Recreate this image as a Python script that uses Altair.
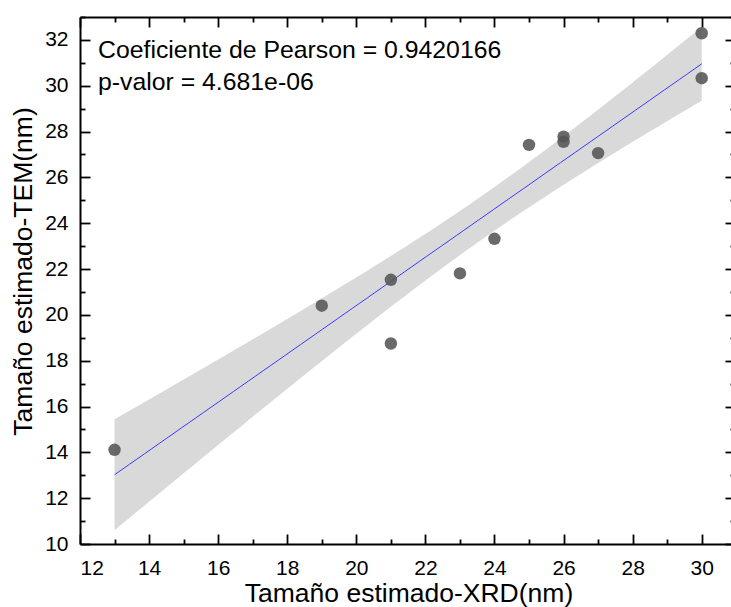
import altair as alt
import numpy as np
import pandas as pd

# Data
xrd = [13, 19, 21, 21, 23, 24, 25, 26, 26, 27, 30, 30]
tem = [14.11, 20.40, 21.53, 18.75, 21.81, 23.32, 27.42, 27.78, 27.55, 27.06, 32.29, 30.33]
annot = ["Coeficiente de Pearson = 0.9420166", "p-valor = 4.681e-06"]
x_title = "Tamaño estimado-XRD(nm)"
y_title = "Tamaño estimado-TEM(nm)"
x_major = [12, 14, 16, 18, 20, 22, 24, 26, 28, 30]
y_major = [10, 12, 14, 16, 18, 20, 22, 24, 26, 28, 30, 32]
x_all = list(range(12, 31))
y_all = list(range(10, 34))

# Linear fit and 95% confidence band of the mean
x = np.array(xrd, float)
y = np.array(tem, float)
n = len(x)
b, a = np.polyfit(x, y, 1)
res = y - (a + b * x)
s = np.sqrt(np.sum(res ** 2) / (n - 2))
sxx = np.sum((x - x.mean()) ** 2)
t = 2.228  # t(0.975, df=10)
xs = np.linspace(x.min(), x.max(), 80)
fit = a + b * xs
half = t * s * np.sqrt(1 / n + (xs - x.mean()) ** 2 / sxx)
band = pd.DataFrame({"x": xs, "fit": fit, "lo": fit - half, "hi": fit + half})
pts = pd.DataFrame({"x": xrd, "y": tem})

W, H = 651, 527
FONT = "Liberation Sans"
xs_ = alt.Scale(domain=[12, 12 + W / 34.54], nice=False, zero=False)
ys_ = alt.Scale(domain=[10, 33], nice=False, zero=False)
tick_cond = {"condition": {"test": "datum.value % 2 === 0", "value": 10}, "value": 5}

common_tick_axis = dict(labels=False, domain=False, ticks=True, grid=False,
                        tickColor="black", tickWidth=1.8, tickSize=tick_cond)

band_layer = alt.Chart(band).mark_area(color="#d9d9d9", opacity=1).encode(
    x=alt.X("x:Q", scale=xs_, axis=alt.Axis(
        orient="bottom", values=x_major, ticks=False, grid=False,
        domain=True, domainColor="black", domainWidth=2,
        labelFont=FONT, labelFontSize=21, labelColor="black", labelPadding=13,
        title=x_title, titleFont=FONT, titleFontSize=26.5, titleFontWeight="normal",
        titleColor="black", titleBaseline="alphabetic", titleY=57, titleX=W / 2 + 3)),
    y=alt.Y("lo:Q", scale=ys_, axis=alt.Axis(
        orient="left", values=y_major, ticks=False, grid=False,
        domain=True, domainColor="black", domainWidth=2,
        labelFont=FONT, labelFontSize=21, labelColor="black", labelPadding=12,
        title=y_title, titleFont=FONT, titleFontSize=26.5, titleFontWeight="normal",
        titleColor="black", titleAngle=-90, titleBaseline="alphabetic",
        titleAlign="center", titleX=-49, titleY=254)),
    y2="hi:Q",
)

line_layer = alt.Chart(band).mark_line(color="#3a3aff", strokeWidth=1).encode(
    x=alt.X("x:Q", scale=xs_, title=None,
            axis=alt.Axis(orient="top", offset=-H, values=x_all, **common_tick_axis)),
    y=alt.Y("fit:Q", scale=ys_, title=None,
            axis=alt.Axis(orient="right", offset=-W, values=y_all, **common_tick_axis)),
)

top_axis = dict(common_tick_axis)
top_axis["domain"] = True
top_axis["domainColor"] = "black"
top_axis["domainWidth"] = 2

point_layer = alt.Chart(pts).mark_circle(size=155, color="#555555", opacity=0.88).encode(
    x=alt.X("x:Q", scale=xs_, title=None,
            axis=alt.Axis(orient="bottom", offset=-H, values=x_all, **top_axis)),
    y=alt.Y("y:Q", scale=ys_, title=None,
            axis=alt.Axis(orient="left", offset=-(W + 4), values=y_all, **common_tick_axis)),
)

txt = pd.DataFrame({"t": ["\n".join(annot)]})
text_layer = alt.Chart(txt).mark_text(
    align="left", baseline="alphabetic", font=FONT, fontSize=24.8, color="black",
    lineBreak="\n", lineHeight=32,
).encode(x=alt.value(18), y=alt.value(41), text="t:N")

chart = alt.layer(band_layer, line_layer, point_layer, text_layer).resolve_axis(
    x="independent", y="independent"
).properties(
    width=W, height=H,
    autosize=alt.AutoSizeParams(type="none"),
    padding={"left": 80, "top": 17, "right": 0, "bottom": 607 - 17 - H},
    background="white",
).configure_view(stroke=None)

chart.save("out.html", embed_options={"renderer": "svg", "actions": False})
